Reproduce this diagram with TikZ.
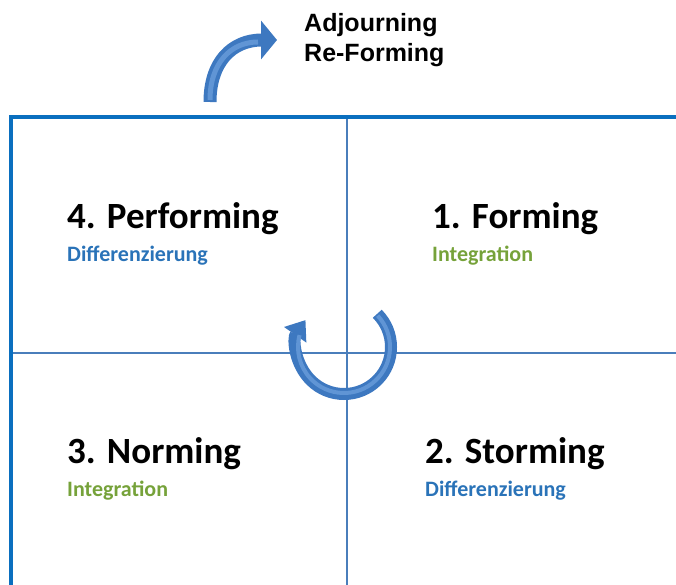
\documentclass[tikz,border=0pt]{standalone}
\usepackage{fontspec}
\newfontfamily\carlito{Carlito}
\newfontfamily\arialfnt{Liberation Sans}
\usetikzlibrary{arrows.meta}
\definecolor{frameblue}{HTML}{0A6FBF}
\definecolor{gridblue}{HTML}{4A7EBB}
\definecolor{subblue}{HTML}{2A73B8}
\definecolor{subgreen}{HTML}{76A23A}
\definecolor{arrowblue}{HTML}{3D78C0}
\definecolor{arrowlight}{HTML}{6FA2DE}
\tikzset{
  phase/.style={anchor=base west,inner sep=0pt,font=\carlito\bfseries\fontsize{37}{40}\selectfont},
  subtitle/.style={anchor=base west,inner sep=0pt,font=\carlito\bfseries\fontsize{22}{26}\selectfont},
  outlook/.style={anchor=base west,inner sep=0pt,font=\arialfnt\bfseries\fontsize{25}{28}\selectfont},
  bigarrow/.style={arrowblue,line width=13pt},
  shine/.style={arrowlight,line width=5pt,opacity=0.7}
}

\begin{document}
\begin{tikzpicture}[x=1pt,y=-1pt]
\useasboundingbox (0,0) rectangle (676,585);
% Quadrants
\draw [line width=1.5pt,gridblue] (347,117) -- (347,585);
\draw [line width=1.5pt,gridblue] (11,353) -- (676,353);
\draw [line width=4.5pt,frameblue] (11,585) -- (11,117) -- (676,117);
% Phases
\node [phase] (performing) at (67,228) {4. Performing};
\node [subtitle,subblue] (perfsub) at (67,261) {Differenzierung};
\node [phase] (forming) at (432,228) {1. Forming};
\node [subtitle,subgreen] (formsub) at (432,261) {Integration};
\node [phase] (norming) at (67,463) {3. Norming};
\node [subtitle,subgreen] (normsub) at (67,496) {Integration};
\node [phase] (storming) at (425,463) {2. Storming};
\node [subtitle,subblue] (stormsub) at (425,496) {Differenzierung};
\node [outlook] (adjourning) at (304,32) {Adjourning};
\node [outlook] (reforming) at (304,62) {Re-Forming};
% Flèches
\coordinate (out) at (210,102);
\coordinate (outtip) at (277,40);
\draw [bigarrow,-{Triangle[width=38pt,length=16pt]}] (out) .. controls (210,62) and (232,40) .. (outtip);
\draw [shine] (210,100) .. controls (210,64) and (230,42) .. (258,42);
\coordinate (cycle) at (344,347);
\draw [bigarrow,line width=12pt,-{Triangle[width=26pt,length=18pt]}] (cycle) ++(-45:47) arc[start angle=-45,end angle=215,radius=47];
\draw [shine,line width=4pt] (cycle) ++(-43:46) arc[start angle=-43,end angle=195,radius=46];
\end{tikzpicture}
\end{document}
